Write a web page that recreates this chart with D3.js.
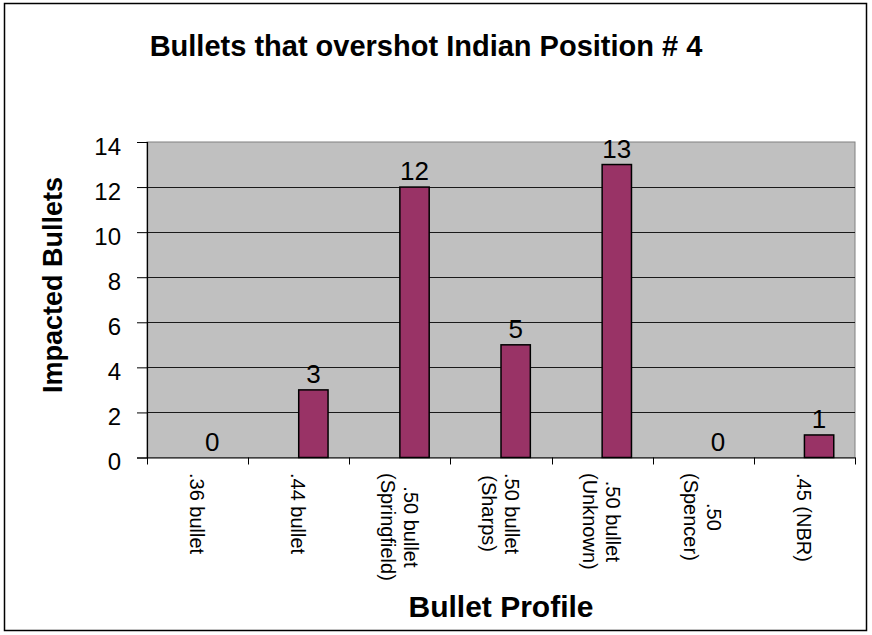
<!DOCTYPE html>
<html>
<head>
<meta charset="utf-8">
<script src="https://cdn.jsdelivr.net/npm/d3@7"></script>
<style>
  html, body { margin: 0; padding: 0; background: #fff; }
  svg { display: block; font-family: "Liberation Sans", Arial, sans-serif; }
</style>
</head>
<body>
<svg id="chart" width="872" height="635"></svg>
<script>
// ---- data ----
const categories = [".36 bullet", ".44 bullet", ".50 bullet\n(Springfield)", ".50 bullet\n(Sharps)", ".50 bullet\n(Unknown)", ".50\n(Spencer)", ".45 (NBR)"];
const values = [0, 3, 12, 5, 13, 0, 1];
const yTicks = [0, 2, 4, 6, 8, 10, 12, 14];
const titleText = "Bullets that overshot Indian Position # 4";
const yTitle = "Impacted Bullets";
const xTitle = "Bullet Profile";

// ---- layout ----
const svg = d3.select("#chart");
const plot = { left: 147, right: 855, top: 142, bottom: 457.5 };

const x = d3.scaleBand().domain(categories).range([plot.left, plot.right]).padding(0);
const y = d3.scaleLinear().domain([0, 14]).range([plot.bottom, plot.top]);

// outer border
svg.append("rect")
  .attr("x", 4.5).attr("y", 3.5).attr("width", 862).attr("height", 627)
  .attr("fill", "#fff").attr("stroke", "#000").attr("stroke-width", 1.5);

// plot area
svg.append("rect")
  .attr("x", plot.left).attr("y", plot.top)
  .attr("width", plot.right - plot.left).attr("height", plot.bottom - plot.top)
  .attr("fill", "#C0C0C0").attr("stroke", "#808080").attr("stroke-width", 1);

// gridlines
svg.append("g").selectAll("line")
  .data(yTicks.filter(t => t > 0 && t < 14))
  .join("line")
  .attr("x1", plot.left).attr("x2", plot.right)
  .attr("y1", d => Math.round(y(d)) + 0.5).attr("y2", d => Math.round(y(d)) + 0.5)
  .attr("stroke", "#1a1a1a").attr("stroke-width", 1);

// bars (drawn from band center, Excel clustered style)
const barW = x.bandwidth() * 0.29;
svg.append("g").selectAll("rect")
  .data(categories.map((c, i) => ({ c, v: values[i] })))
  .join("rect")
  .attr("x", d => x(d.c) + x.bandwidth() / 2)
  .attr("y", d => y(d.v))
  .attr("width", barW)
  .attr("height", d => y(0) - y(d.v))
  .attr("fill", "#993366")
  .attr("stroke", "#000").attr("stroke-width", 1.5);

// data labels
svg.append("g").selectAll("text")
  .data(categories.map((c, i) => ({ c, v: values[i] })))
  .join("text")
  .attr("x", d => x(d.c) + x.bandwidth() / 2 + barW / 2)
  .attr("y", d => y(d.v) - 7)
  .attr("text-anchor", "middle")
  .attr("font-size", 26)
  .attr("fill", "#000")
  .text(d => d.v);

// y axis
const yAxis = svg.append("g")
  .attr("transform", `translate(${plot.left},0)`)
  .call(d3.axisLeft(y).tickValues(yTicks).tickSize(10).tickPadding(16).tickFormat(d3.format("d")));
yAxis.select(".domain").attr("stroke", "#000").attr("stroke-width", 1.2);
yAxis.selectAll(".tick line").attr("stroke", "#000");
yAxis.selectAll(".tick text")
  .attr("font-size", 24).attr("font-family", "Liberation Sans, Arial, sans-serif")
  .attr("fill", "#000").attr("dy", "0.5em");

// x axis line
const xAxis = svg.append("g")
  .attr("transform", `translate(0,${plot.bottom})`)
  .call(d3.axisBottom(x).tickSize(0).tickFormat(""));
xAxis.select(".domain").attr("stroke", "#000").attr("stroke-width", 1.2);
xAxis.selectAll(".tick").remove();

// x tick marks at band boundaries
const bounds = categories.map(c => x(c)).concat([x.range()[1]]);
svg.append("g").selectAll("line")
  .data(bounds)
  .join("line")
  .attr("x1", d => Math.round(d) + 0.5).attr("x2", d => Math.round(d) + 0.5)
  .attr("y1", plot.bottom).attr("y2", plot.bottom + 7)
  .attr("stroke", "#000");

// x category labels (rotated 90deg, multiline, lines centered)
const lineH = 23, labFont = 20, capHalf = 7.5;
categories.forEach(c => {
  const lines = c.split("\n");
  const cx = x(c) + x.bandwidth() / 2;
  const g = svg.append("g").attr("transform", `translate(${cx},473) rotate(90)`);
  const texts = lines.map((ln, i) => g.append("text")
    .attr("font-size", labFont)
    .attr("fill", "#000")
    .attr("text-anchor", "middle")
    .attr("y", -(lines.length - 1) * lineH / 2 + i * lineH + capHalf)
    .text(ln));
  const maxLen = d3.max(texts, t => t.node().getComputedTextLength());
  texts.forEach(t => t.attr("x", maxLen / 2));
});

// titles
svg.append("text")
  .attr("x", 426).attr("y", 56)
  .attr("text-anchor", "middle")
  .attr("font-size", 29).attr("font-weight", "bold")
  .attr("fill", "#000")
  .text(titleText);

svg.append("text")
  .attr("transform", "translate(62,285) rotate(-90)")
  .attr("text-anchor", "middle")
  .attr("font-size", 27).attr("font-weight", "bold")
  .attr("fill", "#000")
  .text(yTitle);

svg.append("text")
  .attr("x", 501).attr("y", 617)
  .attr("text-anchor", "middle")
  .attr("font-size", 30).attr("font-weight", "bold")
  .attr("fill", "#000")
  .text(xTitle);
</script>
</body>
</html>
